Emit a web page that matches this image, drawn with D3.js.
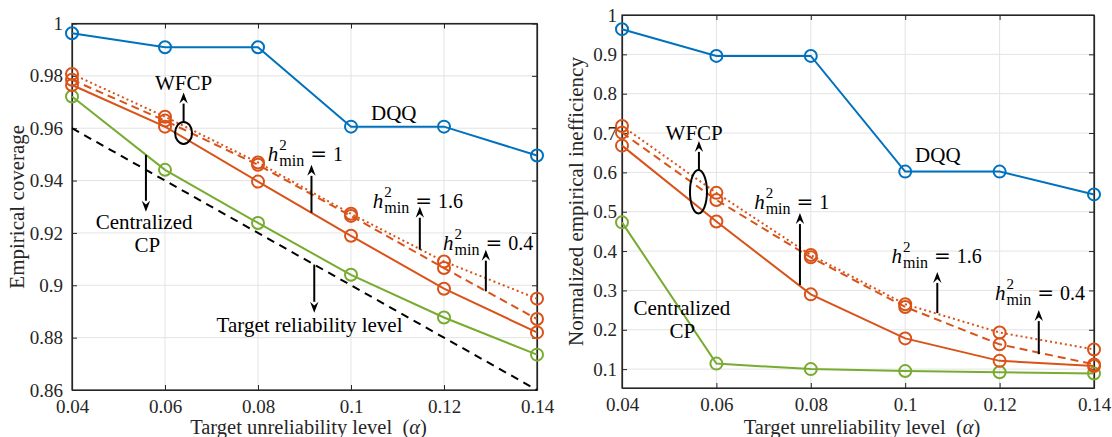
<!DOCTYPE html>
<html>
<head>
<meta charset="utf-8">
<script src="https://cdn.jsdelivr.net/npm/d3@7"></script>
<style>
  body { margin: 0; background: #fff; }
  text { font-family: "Liberation Serif", "Times New Roman", serif; }
</style>
</head>
<body>
<svg id="chart" width="1112" height="437"></svg>
<script>
// x values shared by both panels
const alpha = [0.04, 0.06, 0.08, 0.1, 0.12, 0.14];

// left panel: empirical coverage
const covDQQ     = [0.9963, 0.9909, 0.9909, 0.9606, 0.9606, 0.9496];
const covWF_h1   = [0.9765, 0.9606, 0.9396, 0.9189, 0.8987, 0.8820];
const covWF_h04  = [0.9785, 0.9629, 0.9460, 0.9265, 0.9066, 0.8871];
const covWF_h16  = [0.9807, 0.9644, 0.9469, 0.9273, 0.9091, 0.8949];
const covCentral = [0.9721, 0.9441, 0.9238, 0.9040, 0.8877, 0.8735];
const covTarget  = alpha.map(a => 1 - a);   // target reliability 1 - alpha

// right panel: normalized empirical inefficiency
const ineDQQ     = [0.964, 0.896, 0.896, 0.602, 0.602, 0.544];
const ineWF_h1   = [0.668, 0.475, 0.290, 0.178, 0.121, 0.108];
const ineWF_h04  = [0.701, 0.530, 0.384, 0.258, 0.163, 0.112];
const ineWF_h16  = [0.718, 0.548, 0.390, 0.265, 0.193, 0.150];
const ineCentral = [0.473, 0.114, 0.100, 0.095, 0.092, 0.089];

// tick labels
const xTicks = [0.04, 0.06, 0.08, 0.1, 0.12, 0.14];
const covTicks = [0.86, 0.88, 0.9, 0.92, 0.94, 0.96, 0.98, 1];
const ineTicks = [0.1, 0.2, 0.3, 0.4, 0.5, 0.6, 0.7, 0.8, 0.9, 1];

const BLUE = "#0072BD", ORANGE = "#D95319", GREEN = "#77AC30";

const svg = d3.select("#chart");

function hLabel(g, x, y, value) {
  // h^2_min = value
  const t = g.append("text").attr("x", x).attr("y", y)
    .attr("font-size", 21).attr("fill", "#000");
  t.append("tspan").attr("font-style", "italic").text("h");
  t.append("tspan").attr("font-size", 15).attr("dy", -11).attr("dx", 1).text("2");
  t.append("tspan").attr("font-size", 16).attr("dy", 16).attr("dx", -7.5).text("min");
  t.append("tspan").attr("font-family", "DejaVu Serif, serif").attr("font-size", 20)
    .attr("dy", -5).attr("dx", 6).text("=");
  t.append("tspan").attr("font-size", 20).attr("dx", 6).text(value);
}

function arrow(g, x1, y1, x2, y2) {
  const ang = Math.atan2(y2 - y1, x2 - x1);
  const L = 11, W = 4.2;
  const bx = x2 - L * Math.cos(ang), by = y2 - L * Math.sin(ang);
  g.append("line").attr("x1", x1).attr("y1", y1).attr("x2", bx).attr("y2", by)
    .attr("stroke", "#000").attr("stroke-width", 2);
  const px = -Math.sin(ang) * W, py = Math.cos(ang) * W;
  g.append("path")
    .attr("d", `M${x2},${y2}L${bx + px},${by + py}L${bx + 0.35 * L * Math.cos(ang)},${by + 0.35 * L * Math.sin(ang)}L${bx - px},${by - py}Z`)
    .attr("fill", "#000");
}

function drawPanel(p) {
  const x = d3.scaleLinear().domain([0.04, 0.14]).range([p.left, p.right]);
  const y = d3.scaleLinear().domain(p.yDomain).range([p.bottom, p.top]);
  const g = svg.append("g");

  // grid
  g.selectAll(".gx").data(xTicks).enter().append("line")
    .attr("x1", d => x(d)).attr("x2", d => x(d)).attr("y1", p.top).attr("y2", p.bottom)
    .attr("stroke", "#e3e3e3").attr("stroke-width", 1);
  g.selectAll(".gy").data(p.yTicks).enter().append("line")
    .attr("x1", p.left).attr("x2", p.right).attr("y1", d => y(d)).attr("y2", d => y(d))
    .attr("stroke", "#e3e3e3").attr("stroke-width", 1);

  // axes, ticks pointing in, box on
  const ax = g.append("g").attr("color", "#262626");
  ax.append("g").attr("transform", `translate(0,${p.bottom})`)
    .call(d3.axisBottom(x).tickValues(xTicks).tickSizeInner(-5).tickSizeOuter(0).tickPadding(10).tickFormat(d3.format("~g")));
  ax.append("g").attr("transform", `translate(0,${p.top})`)
    .call(d3.axisTop(x).tickValues(xTicks).tickSizeInner(-5).tickSizeOuter(0).tickFormat(""));
  ax.append("g").attr("transform", `translate(${p.left},0)`)
    .call(d3.axisLeft(y).tickValues(p.yTicks).tickSizeInner(-5).tickSizeOuter(0).tickPadding(p.yPad).tickFormat(d3.format("~g")));
  ax.append("g").attr("transform", `translate(${p.right},0)`)
    .call(d3.axisRight(y).tickValues(p.yTicks).tickSizeInner(-5).tickSizeOuter(0).tickFormat(""));
  ax.selectAll(".domain").attr("stroke", "#262626").attr("stroke-width", 1.2);
  ax.selectAll("text").attr("font-size", 19).attr("fill", "#262626")
    .attr("font-family", "Liberation Serif, serif");
  g.append("rect").attr("x", p.left).attr("y", p.top)
    .attr("width", p.right - p.left).attr("height", p.bottom - p.top)
    .attr("fill", "none").attr("stroke", "#262626").attr("stroke-width", 1.2);

  // series
  const line = d3.line().x((d, i) => x(alpha[i])).y(d => y(d));
  p.series.forEach(s => {
    g.append("path").datum(s.values).attr("d", line)
      .attr("fill", "none").attr("stroke", s.color).attr("stroke-width", 2)
      .attr("stroke-dasharray", s.dash || null);
    if (s.marker) {
      g.selectAll(null).data(s.values).enter().append("circle")
        .attr("cx", (d, i) => x(alpha[i])).attr("cy", d => y(d)).attr("r", 6)
        .attr("fill", "none").attr("stroke", s.color).attr("stroke-width", 2);
    }
  });

  // annotations
  const a = g.append("g");
  p.texts.forEach(t => {
    a.append("text").attr("x", x(t.a)).attr("y", y(t.v)).attr("font-size", 21)
      .attr("text-anchor", t.anchor || "middle").attr("fill", "#000").text(t.s);
  });
  p.hLabels.forEach(h => hLabel(a, x(h.a), y(h.v), h.s));
  p.arrows.forEach(r => arrow(a, x(r.a), y(r.v1), x(r.a), y(r.v2)));
  a.append("ellipse").attr("cx", x(p.ellipse.a)).attr("cy", y(p.ellipse.v))
    .attr("rx", p.ellipse.rx).attr("ry", p.ellipse.ry)
    .attr("fill", "none").attr("stroke", "#000").attr("stroke-width", 2);

  // axis labels
  const xl = g.append("text").attr("x", (p.left + p.right) / 2 + 4).attr("y", 434)
    .attr("font-size", 20.5).attr("text-anchor", "middle").attr("fill", "#262626");
  xl.append("tspan").text("Target unreliability level\u00a0\u00a0(");
  xl.append("tspan").attr("font-style", "italic").text("α");
  xl.append("tspan").text(")");
  g.append("text").attr("transform", `translate(${p.yLabelX},${(p.top + p.bottom) / 2}) rotate(-90)`)
    .attr("font-size", 21).attr("text-anchor", "middle").attr("fill", "#262626").text(p.yLabel);
}

drawPanel({
  left: 72, right: 537, top: 23.5, bottom: 390, yDomain: [0.86, 1], yTicks: covTicks, yPad: 9,
  yLabel: "Empirical coverage", yLabelX: 24,
  series: [
    { values: covTarget, color: "#000", dash: "8,6" },
    { values: covCentral, color: GREEN, marker: true },
    { values: covWF_h1, color: ORANGE, marker: true },
    { values: covWF_h04, color: ORANGE, dash: "8,5", marker: true },
    { values: covWF_h16, color: ORANGE, dash: "2,3", marker: true },
    { values: covDQQ, color: BLUE, marker: true }
  ],
  texts: [
    { s: "WFCP", a: 0.064, v: 0.9746 },
    { s: "Centralized", a: 0.0555, v: 0.9216 },
    { s: "CP", a: 0.0562, v: 0.9128 },
    { s: "DQQ", a: 0.1092, v: 0.9632 },
    { s: "Target reliability level", a: 0.0711, v: 0.882, anchor: "start" }
  ],
  hLabels: [
    { s: "1", a: 0.0821, v: 0.9475 },
    { s: "1.6", a: 0.1047, v: 0.9296 },
    { s: "0.4", a: 0.1198, v: 0.9136 }
  ],
  arrows: [
    { a: 0.064, v1: 0.9625, v2: 0.9736 },
    { a: 0.0559, v1: 0.9498, v2: 0.9281 },
    { a: 0.0915, v1: 0.9277, v2: 0.946 },
    { a: 0.1148, v1: 0.9136, v2: 0.93 },
    { a: 0.129, v1: 0.8977, v2: 0.9136 },
    { a: 0.0921, v1: 0.9079, v2: 0.8895 }
  ],
  ellipse: { a: 0.064, v: 0.9582, rx: 8.5, ry: 11 }
});

drawPanel({
  left: 622, right: 1094, top: 15, bottom: 388, yDomain: [0.052, 1], yTicks: ineTicks, yPad: 5,
  yLabel: "Normalized empirical inefficiency", yLabelX: 583,
  series: [
    { values: ineCentral, color: GREEN, marker: true },
    { values: ineWF_h1, color: ORANGE, marker: true },
    { values: ineWF_h04, color: ORANGE, dash: "8,5", marker: true },
    { values: ineWF_h16, color: ORANGE, dash: "2,3", marker: true },
    { values: ineDQQ, color: BLUE, marker: true }
  ],
  texts: [
    { s: "WFCP", a: 0.0553, v: 0.682 },
    { s: "Centralized", a: 0.0527, v: 0.2372 },
    { s: "CP", a: 0.0528, v: 0.1787 },
    { s: "DQQ", a: 0.1021, v: 0.627, anchor: "start" }
  ],
  hLabels: [
    { s: "1", a: 0.068, v: 0.508 },
    { s: "1.6", a: 0.0971, v: 0.3694 },
    { s: "0.4", a: 0.119, v: 0.2754 }
  ],
  arrows: [
    { a: 0.0563, v1: 0.606, v2: 0.68 },
    { a: 0.0777, v1: 0.3135, v2: 0.4966 },
    { a: 0.1068, v1: 0.2423, v2: 0.347 },
    { a: 0.1283, v1: 0.138, v2: 0.25 }
  ],
  ellipse: { a: 0.0562, v: 0.5507, rx: 8.5, ry: 21.7 }
});
</script>
</body>
</html>
